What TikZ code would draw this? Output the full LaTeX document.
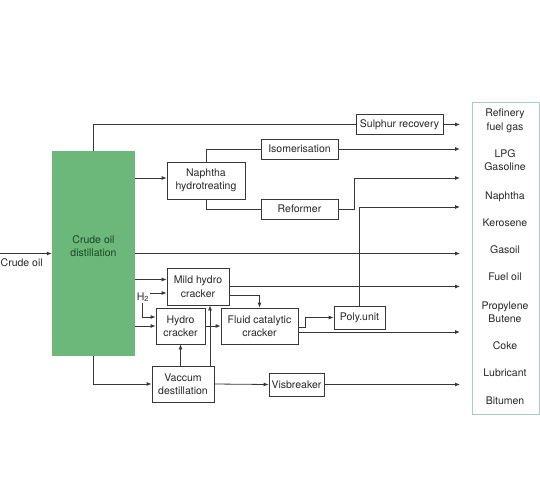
\documentclass[tikz,border=0pt]{standalone}
\usepackage{fontspec}
\setmainfont{TeX Gyre Heros}
\usetikzlibrary{arrows.meta}

\definecolor{distgreen}{RGB}{108,184,122}
\definecolor{disttext}{RGB}{25,70,35}
\definecolor{prodframe}{RGB}{170,205,198}
\definecolor{flowline}{RGB}{55,55,55}

\begin{document}
\begin{tikzpicture}[x=1pt,y=-1pt,>={Latex[length=5pt,width=4pt]},
    every node/.style={font=\fontsize{10.5}{13.5}\selectfont, text=black!85},
    unit/.style={draw=flowline, line width=0.8pt, align=center, inner sep=1pt},
    product/.style={align=center},
    flow/.style={draw=flowline, line width=0.8pt}]
      \useasboundingbox (0,0) rectangle (540,500);

      % main column and feed
      \node[fill=distgreen, minimum width=83pt, minimum height=205pt] (dist) at (93.5,253.5) {};
      \node[text=disttext, align=center] (distlabel) at (93.5,246) {Crude oil\\distillation};
      \node[anchor=west, inner sep=0.5pt] (crude) at (0,263) {Crude oil};
      \coordinate (crudein) at (0,253.5);

      % process units
      \node[unit, minimum width=87pt, minimum height=20pt] (sulphur) at (399.5,124.5) {Sulphur recovery};
      \node[unit, minimum width=77pt, minimum height=20pt] (isom) at (299.5,149) {Isomerisation};
      \node[unit, minimum width=78pt, minimum height=37pt] (nht) at (206,180.5) {Naphtha\\hydrotreating};
      \node[unit, minimum width=77pt, minimum height=20pt] (reformer) at (299.5,209) {Reformer};
      \node[unit, minimum width=62pt, minimum height=37pt] (mhc) at (198,286.5) {Mild hydro\\cracker};
      \node[unit, minimum width=49pt, minimum height=36pt] (hc) at (180.5,326) {Hydro\\cracker};
      \node[unit, minimum width=77pt, minimum height=36pt] (fcc) at (259.5,326) {Fluid catalytic\\cracker};
      \node[unit, minimum width=51pt, minimum height=23pt] (poly) at (359.5,317.5) {Poly.unit};
      \node[unit, minimum width=62pt, minimum height=36pt] (vac) at (183,384) {Vaccum\\destillation};
      \node[unit, minimum width=55pt, minimum height=23pt] (visb) at (296.5,384.5) {Visbreaker};
      \node (htwo) at (143,297) {H\textsubscript{2}};
      \coordinate (hin) at (150,293);
      \coordinate (hdown) at (142,303);

      % products
      \node[draw=prodframe, line width=0.8pt, minimum width=67pt, minimum height=312pt] (products) at (505.5,258) {};
      \node[product] (pfuel) at (505,121) {Refinery\\fuel gas};
      \node[product] (plpg) at (505,160) {LPG\\Gasoline};
      \node[product] (pnaphtha) at (505,197) {Naphtha};
      \node[product] (pkero) at (505,223) {Kerosene};
      \node[product] (pgasoil) at (505,250) {Gasoil};
      \node[product] (pfueloil) at (505,277) {Fuel oil};
      \node[product] (pprop) at (505,312) {Propylene\\Butene};
      \node[product] (pcoke) at (505,346) {Coke};
      \node[product] (plub) at (505,373) {Lubricant};
      \node[product] (pbitumen) at (505,401) {Bitumen};

      \coordinate (ofuel) at (460,124.5);
      \coordinate (olpg) at (460,149);
      \coordinate (onaphtha) at (460,178);
      \coordinate (okero) at (460,207);
      \coordinate (ogasoil) at (460,253.5);
      \coordinate (ofueloil) at (460,286.5);
      \coordinate (oprop) at (460,332);
      \coordinate (obitumen) at (460,384.5);
      \coordinate (refup) at (354,178);

      % connections
      \draw[flow,->] (crudein) -- (dist.west);
      \draw[flow] (dist.north) |- (sulphur.west);
      \draw[flow,->] (sulphur.east) -- (ofuel);
      \draw[flow,->] ([yshift=2.5pt]dist.east |- nht.west) -- ([yshift=2.5pt]nht.west);
      \draw[flow] (nht.north) |- (isom.west);
      \draw[flow,->] (isom.east) -- (olpg);
      \draw[flow] (nht.south) |- (reformer.west);
      \draw[flow,->] (reformer.east) -| (refup) -- (onaphtha);
      \draw[flow,->] (dist.east |- ogasoil) -- (ogasoil);
      \draw[flow,->] (poly.north) |- (okero);
      \draw[flow,->] ([yshift=7pt]dist.east |- mhc.west) -- ([yshift=7pt]mhc.west);
      \draw[flow,->] (hin) -- (hin -| mhc.west);
      \draw[flow,->] (hdown) |- ([yshift=9pt]hc.west);
      \draw[flow,->] (dist.east |- hc.west) -- (hc.west);
      \draw[flow,->] (mhc.east) -- (ofueloil);
      \draw[flow,->] ([yshift=-9pt]mhc.east) -| (fcc.north);
      \draw[flow,->] (hc.east) -- (fcc.west);
      \draw[flow,->] ([yshift=-1pt]fcc.east) -- ++(7,0) |- (poly.west);
      \draw[flow,->] ([yshift=-6pt]fcc.east) -- (oprop);
      \draw[flow,->] (dist.south) |- (vac.west);
      \draw[flow,->] (vac.north -| hc.south) -- (hc.south);
      \draw[flow,->] ([xshift=27pt]vac.north) -- ([xshift=27pt]vac.north |- mhc.south);
      \draw[flow,->] (vac.east) -- (visb.west);
      \draw[flow,->] (visb.east) -- (obitumen);
    \end{tikzpicture}
\end{document}
